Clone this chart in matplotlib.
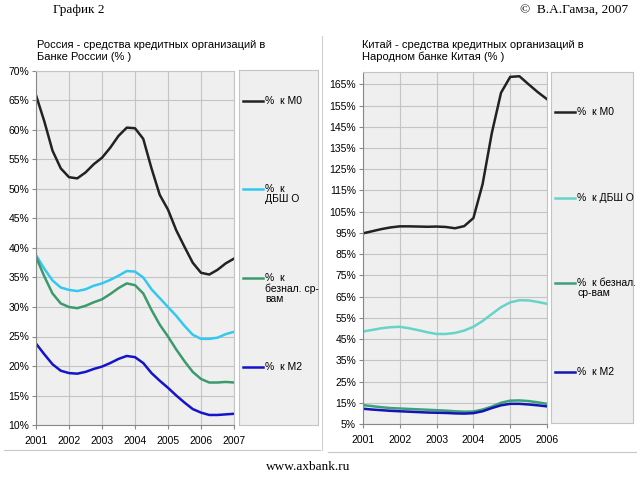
import numpy as np
import matplotlib
matplotlib.use("Agg")
from matplotlib import pyplot as plt

plt.rcParams['font.family'] = ['Liberation Sans', 'DejaVu Sans']

# quarterly readings, 2001..2007 (Russia) and 2001..2006 (China)
ru_years = [2001 + 0.25 * i for i in range(25)]
ru_m0 = [65.9, 61.5, 56.5, 53.5, 52.0, 51.8, 52.8, 54.2, 55.3, 57.0, 59.0, 60.4, 60.3,
         58.5, 53.5, 49.0, 46.5, 43.0, 40.2, 37.5, 35.8, 35.5, 36.3, 37.4, 38.2]
ru_dbsho = [38.8, 36.5, 34.5, 33.3, 32.9, 32.7, 33.0, 33.6, 34.0, 34.6, 35.3, 36.1, 36.0,
            35.0, 33.0, 31.5, 30.0, 28.5, 26.8, 25.3, 24.6, 24.6, 24.8, 25.4, 25.8]
ru_beznal = [38.5, 35.2, 32.3, 30.6, 30.0, 29.8, 30.2, 30.8, 31.3, 32.2, 33.2, 34.0, 33.7,
             32.3, 29.5, 27.0, 25.0, 22.8, 20.8, 19.0, 17.8, 17.2, 17.2, 17.3, 17.2]
ru_m2 = [23.8, 22.0, 20.3, 19.2, 18.8, 18.7, 19.0, 19.5, 19.9, 20.5, 21.2, 21.7, 21.5,
         20.5, 18.8, 17.5, 16.3, 15.0, 13.8, 12.7, 12.1, 11.7, 11.7, 11.8, 11.9]

cn_years = [2001 + 0.25 * i for i in range(21)]
cn_m0 = [94.8, 95.8, 96.8, 97.6, 98.1, 98.1, 98.0, 97.9, 98.0, 97.8, 97.2, 98.2, 102.0,
         118.0, 142.0, 161.0, 168.5, 168.8, 165.0, 161.3, 158.0]
cn_dbsho = [48.6, 49.3, 50.1, 50.6, 50.8, 50.1, 49.2, 48.2, 47.4, 47.4, 47.9, 49.0, 50.8,
            53.5, 56.8, 60.0, 62.3, 63.3, 63.2, 62.5, 61.6]
cn_beznal = [13.9, 13.4, 12.9, 12.5, 12.3, 12.1, 11.9, 11.7, 11.5, 11.3, 11.0, 10.8, 10.9,
             11.8, 13.2, 15.0, 16.0, 16.1, 15.8, 15.2, 14.5]
cn_m2 = [12.2, 11.8, 11.5, 11.2, 11.0, 10.8, 10.6, 10.4, 10.3, 10.2, 10.0, 9.9, 10.1,
         11.0, 12.5, 13.8, 14.5, 14.5, 14.2, 13.8, 13.3]

ru_yticks = list(range(10, 71, 5))
cn_yticks = list(range(5, 166, 10))

ru_labels = ['%  к М0', '%  к\nДБШ О', '%  к\nбезнал. ср-\nвам', '%  к М2']
cn_labels = ['%  к М0', '%  к ДБШ О', '%  к безнал.\nср-вам', '%  к М2']

ru_colors = ['#222222', '#33c8f0', '#3c9a6c', '#1414c8']
cn_colors = ['#222222', '#66d4c8', '#3ca07c', '#1414b4']

W, H = 640, 480
fig = plt.figure(figsize=(6.4, 4.8), dpi=100)


def px_axes(x0, y0, x1, y1):
    return fig.add_axes([x0 / W, 1 - y1 / H, (x1 - x0) / W, (y1 - y0) / H])


def style(ax):
    ax.set_facecolor('#efefef')
    ax.grid(True, color='#c4c4c4', lw=0.8)
    ax.set_axisbelow(True)
    for s in ['top', 'right']:
        ax.spines[s].set_color('#c4c4c4')
    for s in ['left', 'bottom']:
        ax.spines[s].set_color('#888888')
    ax.tick_params(labelsize=7.5, length=3, color='#888888', pad=2)
    ax.tick_params(axis='x', pad=5)


def legend_box(x0, y0, x1, y1, labels, colors, ys):
    lg = px_axes(x0, y0, x1, y1)
    lg.set_facecolor('#efefef')
    lg.set_xticks([])
    lg.set_yticks([])
    for s in lg.spines.values():
        s.set_color('#c4c4c4')
    lg.set_xlim(x0, x1)
    lg.set_ylim(y1, y0)
    for lab, c, yy in zip(labels, colors, ys):
        lg.plot([x0 + 4, x0 + 24], [yy, yy], color=c, lw=1.8)
        lg.text(x0 + 26, yy - 5, lab, fontsize=7.5, va='top', ha='left',
                linespacing=1.05)


ax1 = px_axes(36, 71, 234, 425)
style(ax1)
for vals, c in zip([ru_m0, ru_dbsho, ru_beznal, ru_m2], ru_colors):
    ax1.plot(ru_years, vals, color=c, lw=1.8, solid_joinstyle='round')
ax1.set_xlim(2001, 2007)
ax1.set_ylim(10, 70)
ax1.set_xticks(range(2001, 2008))
ax1.set_yticks(ru_yticks)
ax1.set_yticklabels([f'{v}%' for v in ru_yticks])
legend_box(239, 70, 318, 425, ru_labels, ru_colors, [101, 189, 278, 367])

ax2 = px_axes(363, 72, 547, 424)
style(ax2)
for vals, c in zip([cn_m0, cn_dbsho, cn_beznal, cn_m2], cn_colors):
    ax2.plot(cn_years, vals, color=c, lw=1.8, solid_joinstyle='round')
ax2.set_xlim(2001, 2006)
ax2.set_ylim(5, 170.8)
ax2.set_xticks(range(2001, 2007))
ax2.set_yticks(cn_yticks)
ax2.set_yticklabels([f'{v}%' for v in cn_yticks])
legend_box(551, 72, 633, 423, cn_labels, cn_colors, [112, 198, 283, 372])

fig.text(37 / W, 1 - 40 / H, 'Россия - средства кредитных организаций в\nБанке России (% )',
         fontsize=8, va='top', ha='left', linespacing=1.2)
fig.text(362 / W, 1 - 40 / H, 'Китай - средства кредитных организаций в\nНародном банке Китая (% )',
         fontsize=8, va='top', ha='left', linespacing=1.2)

fig.text(53 / W, 1 - 10 / H, 'График 2', fontsize=9.5, family='Liberation Serif',
         va='center', ha='left')
fig.text(628 / W, 1 - 10 / H, '©  В.А.Гамза, 2007', fontsize=9.5, family='Liberation Serif',
         va='center', ha='right')
fig.text(308 / W, 1 - 467 / H, 'www.axbank.ru', fontsize=9.5, family='Liberation Serif',
         va='center', ha='center')

# faint panel frame lines
fig.add_artist(plt.Line2D([4 / W, 320 / W], [1 - 450 / H, 1 - 450 / H], color='#c8c8c8', lw=0.8))
fig.add_artist(plt.Line2D([328 / W, 636 / W], [1 - 452 / H, 1 - 452 / H], color='#c8c8c8', lw=0.8))
fig.add_artist(plt.Line2D([322 / W, 322 / W], [1 - 36 / H, 1 - 450 / H], color='#d0d0d0', lw=0.8))

fig.savefig('out.png', dpi=100)
